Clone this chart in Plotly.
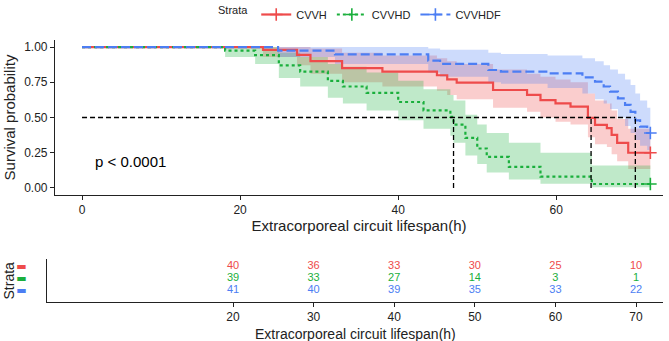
import plotly.graph_objects as go

# ---------------- data ----------------
strata = ["CVVH", "CVVHD", "CVVHDF"]
colors = ["#EE4B4B", "#1AAF3C", "#4C7EF3"]
fills = ["rgba(238,75,75,0.28)", "rgba(26,175,60,0.28)", "rgba(76,126,243,0.28)"]
dashes = ["solid", "3px,3px", "9px,4px"]

t_end = 71.9

t_cvvh = [0, 22.9, 27.2, 28.9, 32.9, 38.0, 44.9, 46.2, 47.4, 52.0, 56.3, 58.0, 59.9, 61.8, 64.0, 64.9, 66.4, 67.0, 67.7, 69.1]
s_cvvh = [1.0, 0.98, 0.945, 0.90, 0.85, 0.825, 0.80, 0.77, 0.747, 0.695, 0.66, 0.624, 0.60, 0.577, 0.497, 0.447, 0.425, 0.376, 0.32, 0.25]
lo_cvvh = [1.0, 0.93, 0.87, 0.81, 0.75, 0.72, 0.69, 0.66, 0.63, 0.57, 0.54, 0.50, 0.47, 0.45, 0.36, 0.31, 0.29, 0.24, 0.19, 0.135]
hi_cvvh = [1.0, 1.0, 1.0, 0.99, 0.96, 0.94, 0.92, 0.90, 0.88, 0.84, 0.81, 0.79, 0.77, 0.75, 0.67, 0.62, 0.60, 0.55, 0.49, 0.42]

t_cvvhd = [0, 18.1, 21.9, 24.9, 27.6, 31.1, 33.0, 36.0, 40.0, 43.2, 46.6, 47.0, 48.5, 50.0, 51.2, 54.0, 58.0, 64.5]
s_cvvhd = [1.0, 0.975, 0.943, 0.87, 0.825, 0.76, 0.72, 0.675, 0.61, 0.55, 0.505, 0.45, 0.355, 0.28, 0.22, 0.15, 0.08, 0.028]
lo_cvvhd = [1.0, 0.93, 0.88, 0.78, 0.72, 0.64, 0.60, 0.55, 0.48, 0.42, 0.37, 0.32, 0.23, 0.17, 0.11, 0.06, 0.03, 0.005]
hi_cvvhd = [1.0, 1.0, 1.0, 0.96, 0.93, 0.88, 0.86, 0.82, 0.76, 0.70, 0.66, 0.62, 0.52, 0.45, 0.39, 0.32, 0.25, 0.16]

t_cvvhdf = [0, 24.8, 32.0, 43.8, 45.3, 51.4, 53.0, 58.9, 63.3, 64.9, 66.0, 66.8, 67.8, 68.7, 69.4, 70.0, 70.6, 71.5]
s_cvvhdf = [1.0, 0.975, 0.948, 0.903, 0.88, 0.837, 0.825, 0.813, 0.785, 0.755, 0.72, 0.683, 0.636, 0.59, 0.54, 0.48, 0.435, 0.39]
lo_cvvhdf = [1.0, 0.93, 0.88, 0.82, 0.79, 0.75, 0.74, 0.71, 0.67, 0.63, 0.60, 0.56, 0.50, 0.44, 0.39, 0.34, 0.30, 0.27]
hi_cvvhdf = [1.0, 1.0, 1.0, 0.99, 0.98, 0.96, 0.95, 0.94, 0.92, 0.90, 0.87, 0.84, 0.81, 0.77, 0.73, 0.67, 0.62, 0.57]

medians = [64.4, 47.0, 70.0]

risk_times = [20, 30, 40, 50, 60, 70]
risk_cvvh = [40, 36, 33, 30, 25, 10]
risk_cvvhd = [39, 33, 27, 14, 3, 1]
risk_cvvhdf = [41, 40, 39, 35, 33, 22]

x_ticks_main = [0, 20, 40, 60]
y_ticks_main = [0, 0.25, 0.5, 0.75, 1.0]
y_ticklabels_main = ["0.00", "0.25", "0.50", "0.75", "1.00"]

x_title = "Extracorporeal circuit lifespan(h)"

# ---------------- figure ----------------
W, H = 669, 341
FONT = "Liberation Sans, Arial, sans-serif"
fig = go.Figure()

curves = [
    (t_cvvh, s_cvvh, lo_cvvh, hi_cvvh),
    (t_cvvhd, s_cvvhd, lo_cvvhd, hi_cvvhd),
    (t_cvvhdf, s_cvvhdf, lo_cvvhdf, hi_cvvhdf),
]

# confidence bands
for i, (t, s, lo, hi) in enumerate(curves):
    tt = t + [t_end]
    fig.add_trace(go.Scatter(x=tt, y=lo + [lo[-1]], mode="lines", line=dict(width=0, shape="hv"),
                             showlegend=False, hoverinfo="skip"))
    fig.add_trace(go.Scatter(x=tt, y=hi + [hi[-1]], mode="lines", line=dict(width=0, shape="hv"),
                             fill="tonexty", fillcolor=fills[i], showlegend=False, hoverinfo="skip"))

# survival curves
for i, (t, s, lo, hi) in enumerate(curves):
    tt = t + [t_end]
    fig.add_trace(go.Scatter(x=tt, y=s + [s[-1]], mode="lines",
                             line=dict(color=colors[i], width=2.2, shape="hv", dash=dashes[i]),
                             showlegend=False))
    fig.add_trace(go.Scatter(x=[t_end], y=[s[-1]], mode="markers",
                             marker=dict(symbol="cross-thin", size=9, line=dict(color=colors[i], width=1.6)),
                             showlegend=False))

# median lines
max_med = max(medians)
fig.add_trace(go.Scatter(x=[0, max_med], y=[0.5, 0.5], mode="lines",
                         line=dict(color="black", width=1.3, dash="5px,3px"), showlegend=False))
for m in medians:
    fig.add_trace(go.Scatter(x=[m, m], y=[0, 0.5], mode="lines",
                             line=dict(color="black", width=1.3, dash="5px,3px"), showlegend=False))

# legend entries
for i, name in enumerate(strata):
    fig.add_trace(go.Scatter(x=[None], y=[None], mode="lines+markers", name=name,
                             line=dict(color=colors[i], width=2.2, dash=dashes[i]),
                             marker=dict(symbol="cross-thin", size=9, line=dict(color=colors[i], width=1.6))))

# risk table
risk_rows = [risk_cvvh, risk_cvvhd, risk_cvvhdf]
for i, row in enumerate(risk_rows):
    fig.add_trace(go.Scatter(x=risk_times, y=[3 - i] * len(risk_times), mode="text",
                             text=[str(v) for v in row], textfont=dict(color=colors[i], size=11, family=FONT),
                             textposition="middle center", xaxis="x2", yaxis="y2", showlegend=False))

fig.add_annotation(x=1.4, y=0.19, text="p < 0.0001", showarrow=False, xanchor="left", yanchor="middle",
                   font=dict(size=15, color="black", family=FONT), xref="x", yref="y")

axis_common = dict(showgrid=False, zeroline=False, showline=True, linecolor="#222", linewidth=1.1,
                   ticks="outside", ticklen=4, tickcolor="#222", tickfont=dict(size=12, color="#222", family=FONT))

RT_TOP, RT_BOT = 259, 302
RT_L, RT_R = 47, 663

# risk table axis titles (as annotations so they are not squeezed by zero margins)
fig.add_annotation(x=(RT_L + RT_R) / 2 / W, y=0, xref="paper", yref="paper", text=x_title,
                   showarrow=False, xanchor="center", yanchor="bottom", yshift=-2, borderpad=0,
                   font=dict(size=14, color="#222", family=FONT))
fig.add_annotation(x=8 / W, y=(H - (RT_TOP + RT_BOT) / 2) / H, xref="paper", yref="paper", text="Strata",
                   showarrow=False, xanchor="center", yanchor="middle", textangle=-90,
                   font=dict(size=14, color="#222", family=FONT))

fig.update_layout(
    width=W, height=H,
    margin=dict(l=0, r=0, t=0, b=0),
    plot_bgcolor="white", paper_bgcolor="white",
    font=dict(family=FONT, color="#222"),
    legend=dict(orientation="h", x=361 / W, xanchor="center", y=1.0, yanchor="top",
                traceorder="normal",
                title=dict(text="Strata", font=dict(size=11)), font=dict(size=11),
                itemwidth=30, tracegroupgap=0),
    xaxis=dict(domain=[55 / W, 663 / W], range=[-3.42, 73.5], tickvals=x_ticks_main, anchor="y",
               title=dict(text=x_title, font=dict(size=15), standoff=2), **axis_common),
    yaxis=dict(domain=[(H - 195) / H, (H - 40) / H], range=[-0.05, 1.05], tickvals=y_ticks_main,
               ticktext=y_ticklabels_main, anchor="x",
               title=dict(text="Survival probability", font=dict(size=15), standoff=4), **axis_common),
    xaxis2=dict(domain=[RT_L / W, RT_R / W], range=[-3.08, 73.35], tickvals=risk_times, anchor="y2",
                **axis_common),
    yaxis2=dict(domain=[(H - RT_BOT) / H, (H - RT_TOP) / H], range=[0.04, 3.64], tickvals=[3, 2, 1], anchor="x2",
                ticktext=[f'<span style="color:{c}">▬</span>' for c in colors],
                showgrid=False, zeroline=False, showline=True, linecolor="#222", linewidth=1.1,
                ticks="outside", ticklen=17, tickcolor="rgba(0,0,0,0)", tickfont=dict(size=11, family="DejaVu Sans")),
)

fig.write_html("out.html")
